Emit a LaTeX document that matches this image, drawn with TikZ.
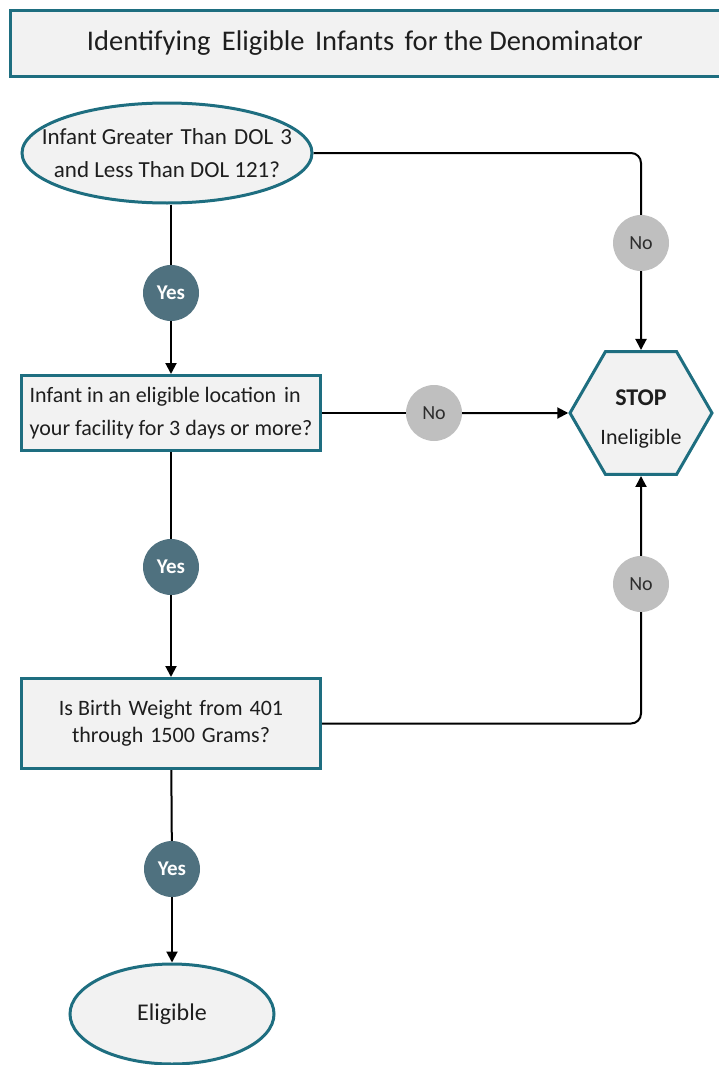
\documentclass[tikz,border=0pt]{standalone}
\usepackage{fontspec}
\setmainfont{Carlito}
\usetikzlibrary{shapes.geometric,arrows.meta}
\definecolor{tealline}{RGB}{30,110,128}
\definecolor{boxfill}{RGB}{242,242,242}
\definecolor{yesfill}{RGB}{79,113,127}
\definecolor{nofill}{RGB}{191,191,191}
\definecolor{notext}{RGB}{45,45,45}
\definecolor{bodytext}{RGB}{30,30,30}

\begin{document}
\begin{tikzpicture}[x=1pt, y=-1pt,
  box/.style={draw=tealline, fill=boxfill, line width=3pt, rectangle, inner sep=0pt,
    minimum width=299pt, text=bodytext, font=\fontsize{22}{33}\selectfont},
  oval/.style={draw=tealline, fill=boxfill, line width=3pt, ellipse, inner sep=0pt,
    inner xsep=-40pt, text=bodytext, font=\fontsize{23}{33}\selectfont, align=center},
  stopbox/.style={draw=tealline, fill=boxfill, line width=3pt, regular polygon,
    regular polygon sides=6, minimum size=142pt, inner sep=0pt, text=bodytext, align=center},
  yesdot/.style={circle, fill=yesfill, minimum size=56pt, inner sep=0pt,
    text=white, font=\fontsize{21}{21}\selectfont\bfseries},
  nodot/.style={circle, fill=nofill, minimum size=56pt, inner sep=0pt,
    text=notext, font=\fontsize{20}{20}\selectfont},
  flow/.style={line width=2pt, black},
  >={Triangle[length=11pt,width=11pt]}
]
\useasboundingbox (0,0) rectangle (719,1065);

% title
\node [draw=tealline, fill=boxfill, line width=3pt, rectangle, minimum width=710pt,
  minimum height=65pt, text=bodytext, font=\fontsize{28.5}{28.5}\selectfont] (title) at (365,43.5)
  {Identifying\hspace{5pt} Eligible\hspace{4pt} Infants\hspace{4pt} for the Denominator};

% decisions
\node [oval, minimum width=290pt, minimum height=100pt] (start) at (167,153)
  {Infant Greater\hspace{2pt} Than\hspace{2pt} DOL\hspace{2pt} 3\\and Less Than DOL 121?};
\node [box, minimum height=75pt, align=left] (loc) at (171,413)
  {Infant in an eligible location\hspace{3pt} in\\your facility for 3 days or more?};
\node [box, minimum height=90pt, align=center, font=\fontsize{22}{27}\selectfont] (weight) at (171,723.5)
  {Is Birth\hspace{2pt} Weight\hspace{2pt} from\hspace{2pt} 401\\through\hspace{2pt} 1500\hspace{2pt} Grams?};
\node [oval, minimum width=204pt, minimum height=100pt, font=\fontsize{24}{24}\selectfont] (elig) at (172,1014) {Eligible};
\node [stopbox] (stop) at (641,413)
  {\rule{0pt}{28pt}\fontsize{24}{24}\selectfont\bfseries STOP\\[22pt]\fontsize{22}{22}\selectfont Ineligible};

% answers
\node [yesdot] (yes1) at (171,293) {Yes};
\node [yesdot] (yes2) at (171,567) {Yes};
\node [yesdot] (yes3) at (172,869) {Yes};
\node [nodot] (no1) at (641,243) {No};
\node [nodot] (no2) at (434,413) {No};
\node [nodot] (no3) at (641,584) {No};

% connectors
\draw [flow] (yes1 |- start.south) -- (yes1);
\draw [flow, ->] (yes1) -- (loc);
\draw [flow] (loc) -- (yes2);
\draw [flow, ->] (yes2) -- (weight);
\draw [flow] (weight) -- (yes3);
\draw [flow, ->] (yes3) -- (elig);

\draw [flow, rounded corners=10pt] (start.east) -| (no1);
\draw [flow, ->] (no1) -- (stop.north);
\draw [flow] (loc) -- (no2);
\draw [flow, ->] (no2) -- (stop.west);
\draw [flow, rounded corners=10pt] (weight.east) -| (no3);
\draw [flow, ->] (no3) -- (stop.south);
\end{tikzpicture}
\end{document}
